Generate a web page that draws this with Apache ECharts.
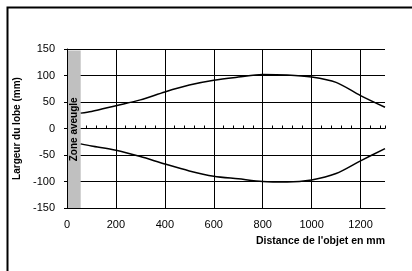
<!DOCTYPE html>
<html>
<head>
<meta charset="utf-8">
<script src="https://cdn.jsdelivr.net/npm/echarts@6/dist/echarts.min.js"></script>
<style>
  html, body { margin: 0; padding: 0; background: #fff; }
  #chart { width: 412px; height: 271px; }
</style>
</head>
<body>
<div id="chart"></div>
<script>
// distance (mm) et largeur du lobe (mm)
const distances = [56, 100, 200, 300, 400, 500, 600, 700, 800, 900, 1000, 1100, 1200, 1300];
const lobeHaut = [29, 32, 43, 54, 69, 82, 91, 97, 102, 101, 97, 87, 62, 40];
const lobeBas = [-29, -33, -41, -53, -67, -80, -90, -95, -100, -101, -97, -85, -61, -38];
const zoneAveugle = [0, 56];

const font = "'Liberation Sans', Arial, sans-serif";
const myChart = echarts.init(document.getElementById("chart"));

const toPairs = (ys) => distances.map((d, i) => [d, ys[i]]);

const options = {
  animation: false,
  backgroundColor: "#fff",
  grid: { left: 67, right: 27, top: 49, bottom: 63 },
  graphic: [
    {
      type: "rect",
      shape: { x: 7.5, y: 7.5, width: 600, height: 600 },
      style: { fill: "none", stroke: "#000", lineWidth: 2 },
      silent: true,
    },
  ],
  xAxis: [
    {
      type: "value",
      min: 0,
      max: 1300,
      interval: 200,
      position: "bottom",
      name: "Distance de l'objet en mm",
      nameLocation: "end",
      nameGap: 0,
      nameTextStyle: {
        fontFamily: font,
        fontWeight: "bold",
        fontSize: 10.5,
        color: "#000",
        align: "right",
        verticalAlign: "top",
        padding: [28, 0, 0, 0],
      },
      axisLine: { onZero: false, lineStyle: { color: "#000", width: 1 } },
      axisTick: { show: false },
      axisLabel: {
        color: "#000",
        fontFamily: font,
        fontSize: 11,
        margin: 11,
        showMaxLabel: false,
        formatter: (v) => String(v),
      },
      splitLine: {
        show: true,
        lineStyle: {
          color: ["#000", "#000", "#000", "#000", "#000", "#000", "#000", "transparent"],
          width: 1,
        },
      },
    },
    {
      // axe à zéro avec graduations fines
      type: "value",
      min: 0,
      max: 1300,
      interval: 40,
      position: "top",
      z: -1,
      axisLine: { show: true, onZero: true, onZeroAxisIndex: 0, lineStyle: { color: "#000", width: 1 } },
      axisTick: { show: true, length: 3, lineStyle: { color: "#000" } },
      axisLabel: { show: false },
      splitLine: { show: false },
    },
  ],
  yAxis: [
    {
      type: "value",
      min: -150,
      max: 150,
      interval: 50,
      position: "left",
      z: 20,
      name: "Largeur du lobe (mm)",
      nameLocation: "middle",
      nameGap: 39,
      nameTextStyle: {
        fontFamily: font,
        fontWeight: "bold",
        fontSize: 10,
        color: "#000",
      },
      axisLine: { show: true, onZero: false, lineStyle: { color: "#000", width: 1 } },
      axisTick: { show: true, length: 3, lineStyle: { color: "#000" } },
      axisLabel: { color: "#000", fontFamily: font, fontSize: 11, margin: 12 },
      splitLine: { show: false },
    },
    {
      // quadrillage horizontal, sous la zone aveugle
      type: "value",
      min: -150,
      max: 150,
      interval: 50,
      position: "right",
      z: -1,
      axisLine: { show: false },
      axisTick: { show: false },
      axisLabel: { show: false },
      splitLine: { show: true, lineStyle: { color: "#000", width: 1 } },
    },
  ],
  series: [
    {
      type: "line",
      xAxisIndex: 0,
      yAxisIndex: 0,
      z: 10,
      data: toPairs(lobeHaut),
      smooth: 0.3,
      symbol: "none",
      lineStyle: { color: "#000", width: 1.5 },
      markArea: {
        silent: true,
        itemStyle: { color: "#c0c0c0", opacity: 1 },
        label: {
          show: true,
          position: "inside",
          rotate: 90,
          formatter: "Zone aveugle",
          fontFamily: font,
          fontWeight: "bold",
          fontSize: 10,
          color: "#000",
        },
        data: [
          [
            { xAxis: zoneAveugle[0], yAxis: -150 },
            { xAxis: zoneAveugle[1], yAxis: 147 },
          ],
        ],
      },
    },
    {
      type: "line",
      xAxisIndex: 0,
      yAxisIndex: 0,
      z: 10,
      data: toPairs(lobeBas),
      smooth: 0.3,
      symbol: "none",
      lineStyle: { color: "#000", width: 1.5 },
    },
  ],
};

myChart.setOption(options);
</script>
</body>
</html>
